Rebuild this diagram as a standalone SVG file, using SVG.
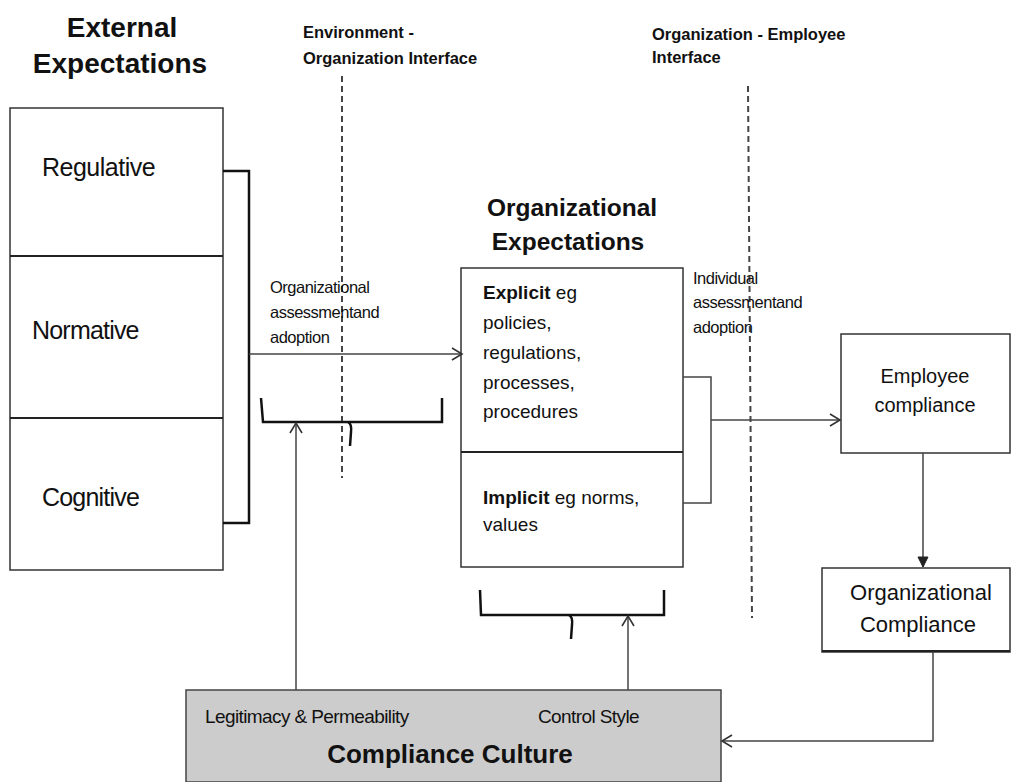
<svg xmlns="http://www.w3.org/2000/svg" width="1013" height="782" viewBox="0 0 1013 782">
<defs>
<marker id="open" markerWidth="14" markerHeight="14" refX="12" refY="7" orient="auto" markerUnits="userSpaceOnUse">
<polyline points="2,1 12,7 2,13" fill="none" stroke="#333" stroke-width="1.6"/>
</marker>
<marker id="solid" markerWidth="14" markerHeight="14" refX="12" refY="7" orient="auto" markerUnits="userSpaceOnUse">
<polygon points="2,2 12,7 2,12" fill="#222" stroke="#222" stroke-width="1"/>
</marker>
</defs>
<style>
text{font-family:"Liberation Sans",Arial,sans-serif;fill:#111}
.b{font-weight:bold}
.box{fill:#fff;stroke:#333;stroke-width:1.5}
.ln{fill:none;stroke:#444;stroke-width:1.5}
.br{fill:none;stroke:#111;stroke-width:2.5}
.dash{fill:none;stroke:#444;stroke-width:2;stroke-dasharray:6,4}
</style>
<rect width="1013" height="782" fill="#fff"/>

<g id="titles">
<text class="b" x="122" y="37" font-size="28" text-anchor="middle">External</text>
<text class="b" x="120" y="73" font-size="28" text-anchor="middle">Expectations</text>
<text class="b" x="303" y="38" font-size="16.5">Environment -</text>
<text class="b" x="303" y="64" font-size="16.5">Organization Interface</text>
<text class="b" x="652" y="40" font-size="16.5">Organization - Employee</text>
<text class="b" x="652" y="63" font-size="16.5">Interface</text>
</g>

<g id="interfaces">
<line class="dash" x1="342" y1="76" x2="342" y2="478"/>
<line class="dash" x1="748" y1="86" x2="752" y2="618"/>
</g>

<g id="external">
<rect class="box" x="10" y="108" width="213" height="462"/>
<line x1="10" y1="256" x2="223" y2="256" stroke="#222" stroke-width="2"/>
<line x1="10" y1="418" x2="223" y2="418" stroke="#222" stroke-width="2"/>
<text x="42" y="176" font-size="25" letter-spacing="-0.5">Regulative</text>
<text x="32" y="339" font-size="25" letter-spacing="-0.8">Normative</text>
<text x="42" y="506" font-size="25" letter-spacing="-0.8">Cognitive</text>
</g>

<g id="orgexp">
<text class="b" x="572" y="216" font-size="24.5" text-anchor="middle">Organizational</text>
<text class="b" x="568" y="250" font-size="24.5" text-anchor="middle">Expectations</text>
<rect class="box" x="461" y="268" width="222" height="299"/>
<line x1="461" y1="452" x2="683" y2="452" stroke="#222" stroke-width="2.2"/>
<text x="483" y="299" font-size="19"><tspan class="b">Explicit</tspan> eg</text>
<text x="483" y="329" font-size="19">policies,</text>
<text x="483" y="359" font-size="19">regulations,</text>
<text x="483" y="389" font-size="19">processes,</text>
<text x="483" y="418" font-size="19">procedures</text>
<text x="483" y="504" font-size="19"><tspan class="b">Implicit</tspan> eg norms,</text>
<text x="483" y="531" font-size="19">values</text>
</g>

<g id="employee">
<rect class="box" x="841" y="334" width="169" height="119"/>
<text x="925" y="383" font-size="20" text-anchor="middle">Employee</text>
<text x="925" y="412" font-size="20" text-anchor="middle">compliance</text>
</g>

<g id="orgcompliance">
<rect class="box" x="822" y="568" width="188" height="84"/>
<line x1="822" y1="651" x2="1010" y2="651" stroke="#222" stroke-width="2"/>
<text x="921" y="600" font-size="22" text-anchor="middle">Organizational</text>
<text x="918" y="632" font-size="22" text-anchor="middle">Compliance</text>
</g>

<g id="culture">
<rect x="186" y="690" width="535" height="92" fill="#cccccc" stroke="#444" stroke-width="1.5"/>
<text x="205" y="723" font-size="19" letter-spacing="-0.6">Legitimacy &amp; Permeability</text>
<text x="538" y="723" font-size="19" letter-spacing="-0.6">Control Style</text>
<text class="b" x="450" y="763" font-size="26" text-anchor="middle">Compliance Culture</text>
</g>

<g id="labels">
<text x="270" y="293" font-size="16.5" letter-spacing="-0.5">Organizational</text>
<text x="270" y="318" font-size="16.5" letter-spacing="-0.5">assessmentand</text>
<text x="270" y="343" font-size="16.5" letter-spacing="-0.5">adoption</text>
<text x="693" y="284" font-size="16.5" letter-spacing="-0.5">Individual</text>
<text x="693" y="308" font-size="16.5" letter-spacing="-0.5">assessmentand</text>
<text x="693" y="333" font-size="16.5" letter-spacing="-0.5">adoption</text>
</g>

<g id="connectors">
<polyline class="br" points="223,171 249,171 249,523 223,523"/>
<line class="ln" x1="249" y1="354" x2="462" y2="354" marker-end="url(#open)"/>
<polyline class="br" points="261,398 263,422 442,422 442,398"/>
<path class="br" d="M348,422 q4,2 3,10 l-1,14"/>
<line class="ln" x1="296" y1="690" x2="296" y2="423" marker-end="url(#open)"/>
<polyline class="br" points="480,590 481,615 664,615 664,590"/>
<path class="br" d="M569,615 q4,2 3,10 l-1,14"/>
<line class="ln" x1="628" y1="690" x2="628" y2="616" marker-end="url(#open)"/>
<polyline class="ln" points="683,377 711,377 711,503 683,503" stroke-width="2"/>
<line class="ln" x1="711" y1="420" x2="840" y2="420" marker-end="url(#open)"/>
<line class="ln" x1="923" y1="453" x2="923" y2="567" marker-end="url(#solid)"/>
<polyline class="ln" points="933,652 933,741 722,741" marker-end="url(#open)"/>
</g>
</svg>
